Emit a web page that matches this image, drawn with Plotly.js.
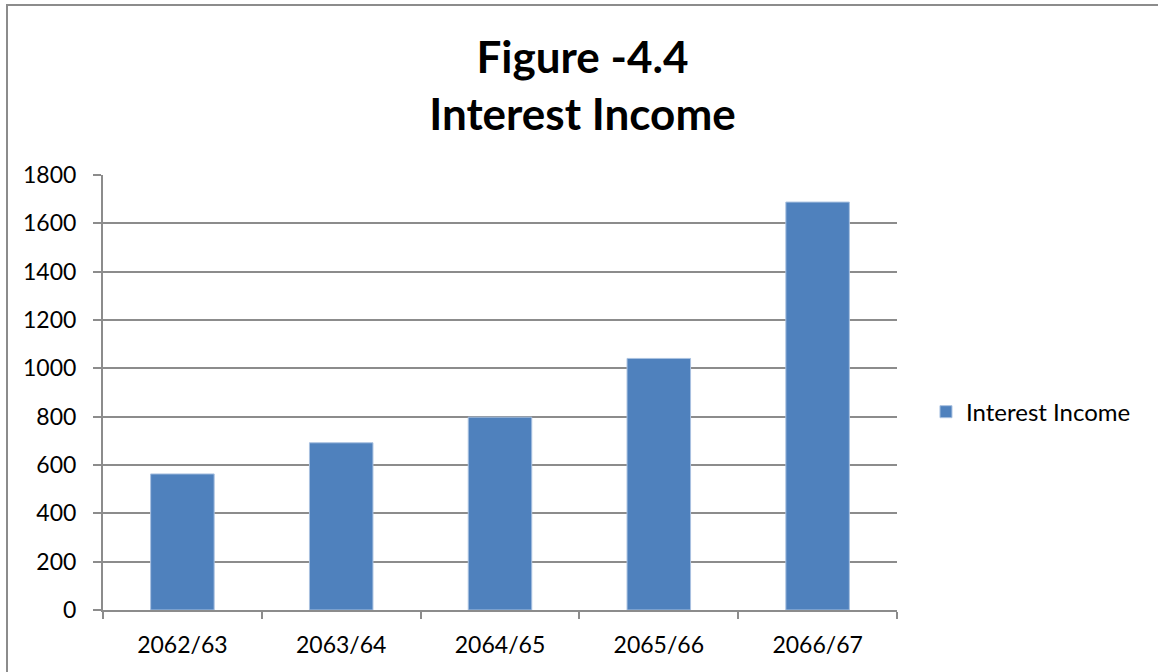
<!DOCTYPE html>
<html>
<head>
<meta charset="utf-8">
<script src="https://cdn.plot.ly/plotly-3.0.1.min.js"></script>
<style>
  html, body { margin: 0; padding: 0; background: #fff; }
  #wrap { position: relative; width: 1158px; height: 672px; overflow: hidden; }
  #frame { position: absolute; left: 6px; top: 4px; width: 1200px; height: 700px;
           border-left: 2px solid #8c8c8c; border-top: 2px solid #8c8c8c; pointer-events: none; }
  #chart { position: absolute; left: 0; top: 0; width: 1158px; height: 672px; }
</style>
</head>
<body>
<div id="wrap">
  <div id="chart"></div>
  <div id="frame"></div>
</div>
<script>
const categories = ["2062/63", "2063/64", "2064/65", "2065/66", "2066/67"];
const interestIncome = [563, 692, 798, 1041, 1688];
const seriesName = "Interest Income";
const yTicks = [0, 200, 400, 600, 800, 1000, 1200, 1400, 1600, 1800];
const titleLines = ["Figure -4.4", "Interest Income"];

const FONT = "Lato, 'Open Sans', sans-serif";

const data = [{
  type: "bar",
  x: categories,
  y: interestIncome,
  name: seriesName,
  marker: { color: "#4F81BD", line: { color: "#A9C1E0", width: 1 } },
  showlegend: true
}];

const layout = {
  width: 1158,
  height: 672,
  paper_bgcolor: "rgba(0,0,0,0)",
  plot_bgcolor: "#ffffff",
  margin: { l: 103, r: 261, t: 175, b: 62, pad: 0 },
  bargap: 0.6,
  title: {
    text: "<b>" + titleLines.join("</b><br><b>") + "</b>",
    font: { family: FONT, size: 44, color: "#000" },
    x: 0.503, xanchor: "center",
    y: 0.892, yanchor: "middle", yref: "container"
  },
  showlegend: true,
  legend: {
    x: 1.0365, xanchor: "left",
    y: 0.455, yanchor: "middle",
    font: { family: FONT, size: 24, color: "#000" },
    itemwidth: 30,
    bgcolor: "rgba(0,0,0,0)"
  },
  xaxis: {
    type: "category",
    showline: true, linecolor: "#8c8c8c", linewidth: 2,
    ticks: "outside", tickson: "boundaries", ticklen: 7, tickcolor: "#8c8c8c", tickwidth: 2,
    showgrid: false,
    tickfont: { family: FONT, size: 23, color: "#000" },
    ticklabelstandoff: 13,
    fixedrange: true
  },
  yaxis: {
    range: [0, 1800],
    tickvals: yTicks,
    ticktext: yTicks.map(String),
    showline: true, linecolor: "#8c8c8c", linewidth: 2,
    ticks: "outside", ticklen: 8, tickcolor: "#8c8c8c", tickwidth: 2,
    showgrid: true, gridcolor: "#8c8c8c", gridwidth: 2,
    zeroline: false,
    tickfont: { family: FONT, size: 23, color: "#000" },
    ticklabelstandoff: 12,
    fixedrange: true
  }
};

Plotly.newPlot("chart", data, layout, { displayModeBar: false, staticPlot: true });
</script>
</body>
</html>
